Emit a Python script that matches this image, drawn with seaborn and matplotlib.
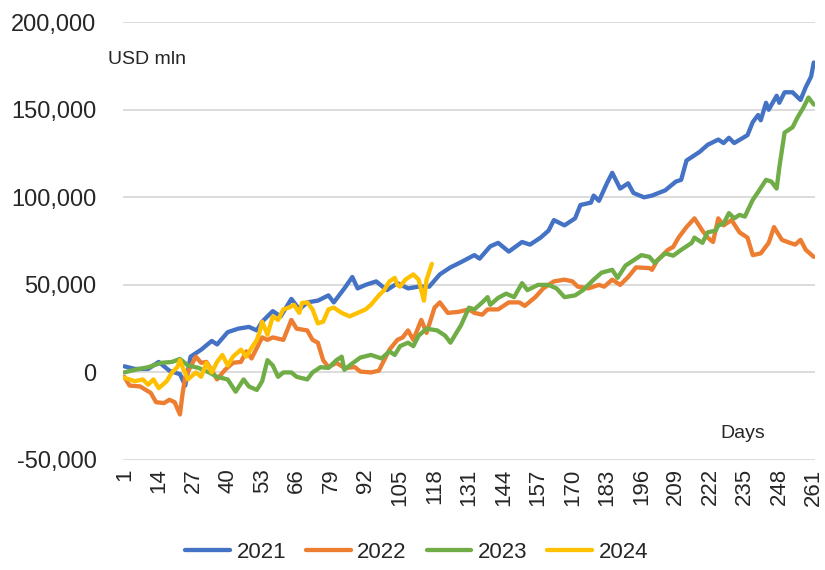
import matplotlib
matplotlib.use('Agg')
import matplotlib.pyplot as plt
import matplotlib.ticker as mticker
import pandas as pd
import seaborn as sns

# valores (miles de USD mln)
dias_2021 = [1, 5, 10, 14, 18, 22, 24, 26, 30, 34, 36, 40, 44, 48, 51, 53, 55, 57, 60, 64,
             67, 70, 74, 78, 80, 84, 87, 89, 92, 96, 100, 104, 108, 112, 116, 120, 124, 128,
             133, 135, 139, 142, 146, 151, 154, 158, 161, 163, 167, 171, 173, 177, 178, 180,
             183, 185, 188, 191, 193, 197, 200, 205, 209, 211, 213, 218, 221, 225, 227, 229,
             231, 236, 238, 240, 241, 243, 244, 247, 248, 250, 253, 256, 258, 260, 261]
vals_2021 = [3.5, 2, 2, 6, 1, -1, -7.5, 9, 13, 18, 16, 23, 25, 26, 24, 29, 32, 35, 32, 42,
             36, 40, 41, 44, 40, 48, 54.5, 48, 50, 52, 47, 51, 48, 49, 49, 56, 60, 63,
             67, 65, 72, 74, 69, 74.5, 73, 77, 81, 87, 84, 88, 95.6, 97, 101, 98,
             108, 114, 105, 108, 102.5, 100, 101, 104, 109, 110, 121, 126, 130, 133, 131, 134,
             131, 135.5, 143, 147, 144, 154, 150, 158, 154, 160, 160, 155.6, 163, 169, 177]

dias_2022 = [1, 3, 7, 11, 13, 16, 18, 20, 22, 23, 24, 28, 30, 32, 35, 36, 39, 42, 45, 47,
             49, 52, 53, 55, 57, 61, 64, 66, 70, 72, 74, 76, 78, 81, 84, 88, 90, 94, 97, 98,
             101, 104, 106, 108, 110, 113, 115, 118, 120, 123, 127, 131, 133, 136, 138, 142,
             146, 150, 152, 156, 159, 163, 167, 170, 172, 176, 180, 182, 185, 188, 191, 194,
             199, 200, 202, 206, 208, 210, 213, 216, 219, 221, 223, 225, 227, 230, 233, 236,
             238, 241, 244, 246, 249, 252, 254, 256, 258, 261]
vals_2022 = [-2.5, -7.5, -8, -11.7, -17, -17.5, -15.6, -17, -24, -12, -2.5, 9, 5.5, 6, -1.4, -4, 1.5, 5.5, 6, 12,
             8, 17, 20, 18.6, 20, 18.6, 30, 25, 24, 18.6, 17, 7, 3, 5.5, 2.6, 3, 0.5, 0, 1, 4,
             13, 18.6, 20, 24, 18.6, 30, 22.6, 37, 40, 34, 34.6, 36, 34, 33, 36, 36,
             40, 40, 38, 43, 48, 52, 53, 52, 49, 48, 50, 49, 53, 50, 54.5, 60,
             59.6, 58.6, 64, 70, 71.7, 77, 83, 88, 81, 77, 74.5, 88, 84, 87, 80, 77,
             67, 68, 74, 83, 75.7, 74, 73, 75.7, 70, 66]

dias_2023 = [1, 5, 10, 15, 19, 22, 25, 29, 33, 36, 40, 43, 46, 48, 51, 53, 55, 57, 59, 61,
             64, 66, 70, 72, 75, 78, 81, 83, 84, 86, 90, 94, 98, 101, 103, 105, 108, 110, 112,
             115, 119, 122, 124, 128, 131, 133, 136, 138, 139, 142, 145, 148, 151, 153, 157,
             161, 164, 167, 171, 174, 178, 181, 185, 187, 190, 193, 196, 199, 201, 205, 208,
             211, 215, 216, 219, 221, 224, 225, 227, 229, 231, 233, 235, 238, 240, 243, 245,
             247, 248, 250, 253, 255, 257, 259, 261]
vals_2023 = [0, 1.5, 3, 5.5, 6, 7.7, 4, 2.6, 0, -2.5, -4, -11, -4, -8, -10, -5, 7, 4, -2.5, 0,
             0, -2.5, -4, 0, 3, 2.6, 7, 9, 1.5, 4, 8.5, 10, 8, 12, 10, 15, 17, 15, 21,
             25, 24, 21, 17, 27, 37, 36, 40, 43, 38.6, 42.6, 45, 43, 51, 47, 50,
             50, 48, 43, 44, 47, 53, 57, 58.6, 54, 61, 64, 67, 66, 62.6, 68, 66.7,
             70, 74, 77, 74, 80, 81, 84, 85, 91, 88, 90, 89, 98.6, 103, 110, 109,
             105, 117, 137, 140, 146, 151, 157, 153]

dias_2024 = [1, 5, 8, 10, 12, 14, 17, 19, 21, 22, 23, 25, 28, 30, 32, 34, 36, 38, 40, 42,
             45, 47, 49, 51, 52, 53, 55, 57, 59, 61, 63, 65, 67, 68, 70, 72, 74, 76, 78, 80,
             83, 86, 89, 92, 94, 97, 99, 101, 103, 104, 105, 107, 110, 112, 113, 114, 115, 117]
vals_2024 = [-3, -5, -4, -7, -4, -9, -5, 0, 3, 7, 3, -4, 0, -2.5, 5.5, 0, 6, 10, 4, 9,
             13, 9, 14, 18.6, 23, 29, 21.5, 32, 30, 36, 37, 38.6, 34, 39.7, 40, 36, 28, 29, 36, 37,
             34, 32, 34, 36, 38.6, 44, 47, 52, 54, 50, 49, 53, 56, 53, 47, 41, 53, 62]

anios = ['2021', '2022', '2023', '2024']
colores = ['#4472C4', '#ED7D31', '#70AD47', '#FFC000']
ticks_x = list(range(1, 262, 13))

series = {'2021': (dias_2021, vals_2021), '2022': (dias_2022, vals_2022),
          '2023': (dias_2023, vals_2023), '2024': (dias_2024, vals_2024)}
filas = []
for anio in anios:
    d, v = series[anio]
    for dia, val in zip(d, v):
        filas.append({'Dia': dia, 'Valor': val * 1000, 'Anio': anio})
df = pd.DataFrame(filas)

sns.set_style('white')
plt.rcParams['font.family'] = ['Liberation Sans', 'DejaVu Sans']

fig = plt.figure(figsize=(8.25, 5.7), dpi=100)
ax = fig.add_axes([0.149, 0.193, 0.839, 0.768])

sns.lineplot(data=df, x='Dia', y='Valor', hue='Anio', hue_order=anios,
             palette=colores, linewidth=3.1, estimator=None, ax=ax)

ax.set_xlim(0.5, 261.5)
ax.set_ylim(-50000, 200000)
ax.set_yticks(range(-50000, 200001, 50000))
ax.yaxis.set_major_formatter(mticker.FuncFormatter(lambda v, p: f'{int(v):,}'))
ax.set_xticks(ticks_x)
ax.set_xticklabels([str(t) for t in ticks_x], rotation=90)
ax.tick_params(axis='both', labelsize=16, length=0)
ax.tick_params(axis='y', labelsize=17, pad=19)
ax.tick_params(axis='x', pad=6)
ax.yaxis.grid(True, color='#d9d9d9', linewidth=1.3)
ax.set_axisbelow(True)
for s in ax.spines.values():
    s.set_visible(False)
ax.set_xlabel('')
ax.set_ylabel('')

fig.text(108 / 825, 1 - 60 / 570, 'USD mln', fontsize=14, va='center', ha='left')
fig.text(720 / 825, 1 - 433 / 570, 'Days', fontsize=14, va='center', ha='left')

ax.legend_.remove()
handles, labels = ax.get_legend_handles_labels()
fig.legend(handles, labels, loc='center', bbox_to_anchor=(0.505, 1 - 552 / 570),
           ncol=4, frameon=False, fontsize=16, handlelength=2.0, columnspacing=0.9,
           handletextpad=0.3)

fig.savefig('out.png', dpi=100)
